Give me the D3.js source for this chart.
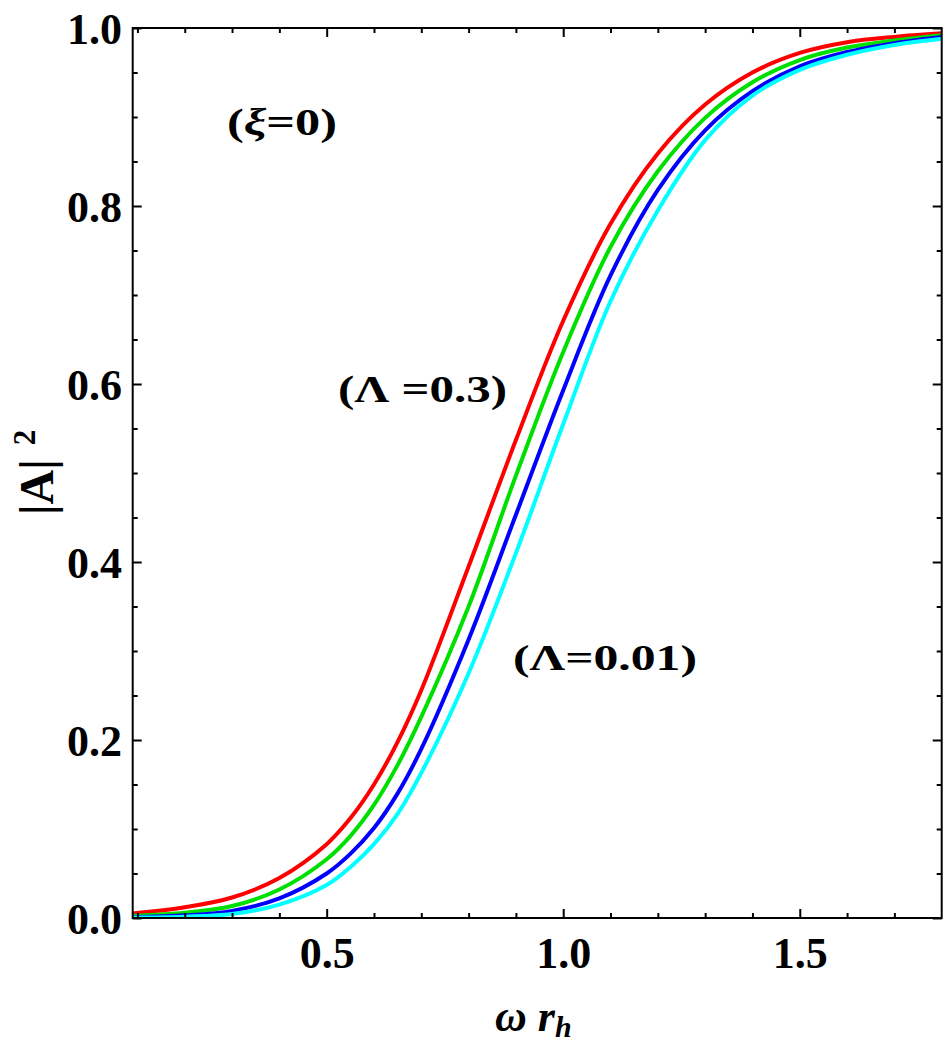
<!DOCTYPE html>
<html>
<head>
<meta charset="utf-8">
<script src="https://cdn.jsdelivr.net/npm/d3@7"></script>
<style>
  body { margin: 0; background: #fff; }
  text { font-family: "Liberation Serif", "Times New Roman", Times, serif; font-weight: bold; }
</style>
</head>
<body>
<svg id="chart" width="945" height="1047"></svg>
<script>
// omega * r_h sample points
const omega = [0.09, 0.2, 0.3, 0.4, 0.5, 0.55, 0.6, 0.65, 0.7, 0.8, 0.9, 1.0, 1.1, 1.2, 1.3, 1.4, 1.5, 1.6, 1.7, 1.8];

// |A|^2 for each curve (red = Lambda 0.3 ... cyan = Lambda 0.01)
const absRed   = [0.005, 0.012, 0.023, 0.045, 0.083, 0.112, 0.150, 0.198, 0.256, 0.395, 0.537, 0.671, 0.780, 0.859, 0.914, 0.950, 0.972, 0.984, 0.990, 0.994];
const absGreen = [0.0026, 0.006, 0.0135, 0.032, 0.066, 0.092, 0.127, 0.172, 0.226, 0.350, 0.497, 0.636, 0.754, 0.839, 0.899, 0.939, 0.964, 0.978, 0.986, 0.992];
const absBlue  = [0.001, 0.003, 0.008, 0.022, 0.050, 0.072, 0.101, 0.140, 0.190, 0.313, 0.453, 0.593, 0.722, 0.818, 0.885, 0.929, 0.957, 0.973, 0.983, 0.990];
const absCyan  = [0.0005, 0.0015, 0.0045, 0.015, 0.037, 0.057, 0.083, 0.117, 0.163, 0.275, 0.410, 0.555, 0.693, 0.795, 0.874, 0.924, 0.953, 0.970, 0.981, 0.988];

const xMajor = [0.5, 1.0, 1.5];
const xMinor = [0.1, 0.2, 0.3, 0.4, 0.6, 0.7, 0.8, 0.9, 1.1, 1.2, 1.3, 1.4, 1.6, 1.7];
const yMajor = [0, 0.2, 0.4, 0.6, 0.8, 1.0];
const yMinor = [0.05, 0.1, 0.15, 0.25, 0.3, 0.35, 0.45, 0.5, 0.55, 0.65, 0.7, 0.75, 0.85, 0.9, 0.95];

const series = [
    { name: "red",   values: absRed,   color: "#ff0000" },
    { name: "green", values: absGreen, color: "#00e000" },
    { name: "blue",  values: absBlue,  color: "#0000ff" },
    { name: "cyan",  values: absCyan,  color: "#00ffff" }
];

const svg = d3.select("#chart");

const margin = { left: 132.7, top: 28, right: 3.3, bottom: 129 };
const width = 945 - margin.left - margin.right;
const height = 1047 - margin.top - margin.bottom;

const x = d3.scaleLinear().domain([0.09, 1.8]).range([0, width]);
const y = d3.scaleLinear().domain([0, 1]).range([height, 0]);

const g = svg.append("g").attr("transform", "translate(" + margin.left + "," + margin.top + ")");

svg.append("defs").append("clipPath").attr("id", "plot-clip")
    .append("rect").attr("width", width).attr("height", height);

// curves
const line = d3.line()
    .x(d => x(d[0]))
    .y(d => y(d[1]))
    .curve(d3.curveCatmullRom.alpha(0.5));

g.append("g").attr("clip-path", "url(#plot-clip)")
    .selectAll("path")
    .data(series)
    .enter().append("path")
    .attr("fill", "none")
    .attr("stroke", d => d.color)
    .attr("stroke-width", 4)
    .attr("d", d => line(omega.map((w, i) => [w, d.values[i]])));

// axes: ticks point inward on all four sides
const fmt = d3.format(".1f");
const addAxis = (axis, transform) => {
    const a = g.append("g").attr("transform", transform).call(axis);
    a.select(".domain").remove();
    a.selectAll("line").attr("stroke", "#000").attr("stroke-width", 2);
    a.selectAll("text").attr("fill", "#000").style("font-size", "44px");
    return a;
};

addAxis(d3.axisBottom(x).tickValues(xMajor).tickSize(-9).tickSizeOuter(0).tickPadding(19).tickFormat(fmt), "translate(0," + height + ")");
addAxis(d3.axisBottom(x).tickValues(xMinor).tickSize(-5).tickSizeOuter(0).tickFormat(""), "translate(0," + height + ")");
addAxis(d3.axisTop(x).tickValues(xMajor).tickSize(-9).tickSizeOuter(0).tickFormat(""), "translate(0,0)");
addAxis(d3.axisTop(x).tickValues(xMinor).tickSize(-5).tickSizeOuter(0).tickFormat(""), "translate(0,0)");

addAxis(d3.axisLeft(y).tickValues(yMajor).tickSize(-9).tickSizeOuter(0).tickPadding(10.7).tickFormat(fmt), "translate(0,0)")
    .selectAll("text").attr("dy", "0.36em");
addAxis(d3.axisLeft(y).tickValues(yMinor).tickSize(-5).tickSizeOuter(0).tickFormat(""), "translate(0,0)");
addAxis(d3.axisRight(y).tickValues(yMajor).tickSize(-9).tickSizeOuter(0).tickFormat(""), "translate(" + width + ",0)");
addAxis(d3.axisRight(y).tickValues(yMinor).tickSize(-5).tickSizeOuter(0).tickFormat(""), "translate(" + width + ",0)");

// frame
g.append("rect")
    .attr("width", width)
    .attr("height", height)
    .attr("fill", "none")
    .attr("stroke", "#000")
    .attr("stroke-width", 2);

// axis titles
const xt = svg.append("text")
    .attr("x", 495)
    .attr("y", 1031)
    .style("font-size", "44px")
    .style("font-style", "italic");
xt.append("tspan").text("ω r");
xt.append("tspan").attr("dy", 6).style("font-size", "30px").text("h");

const yt = svg.append("text")
    .attr("transform", "translate(53,515)rotate(-90)")
    .style("font-size", "48px");
yt.append("tspan").text("|A|");
yt.append("tspan").attr("dx", 14).attr("dy", -18).style("font-size", "31px").text("2");

// annotations (stretched horizontally as in the original)
const notes = [
    { x: 227, y: 135, w: 110, size: 38, parts: [["(", "normal"], ["ξ", "italic"], ["=0)", "normal"]] },
    { x: 338, y: 402, w: 169, size: 37, parts: [["(Λ =0.3)", "normal"]] },
    { x: 513, y: 670, w: 184, size: 35, parts: [["(Λ=0.01)", "normal"]] }
];

notes.forEach(n => {
    const t = svg.append("text")
        .attr("x", n.x)
        .attr("y", n.y)
        .attr("textLength", n.w)
        .attr("lengthAdjust", "spacingAndGlyphs")
        .style("font-size", n.size + "px");
    n.parts.forEach(p => t.append("tspan").style("font-style", p[1]).text(p[0]));
});
</script>
</body>
</html>
